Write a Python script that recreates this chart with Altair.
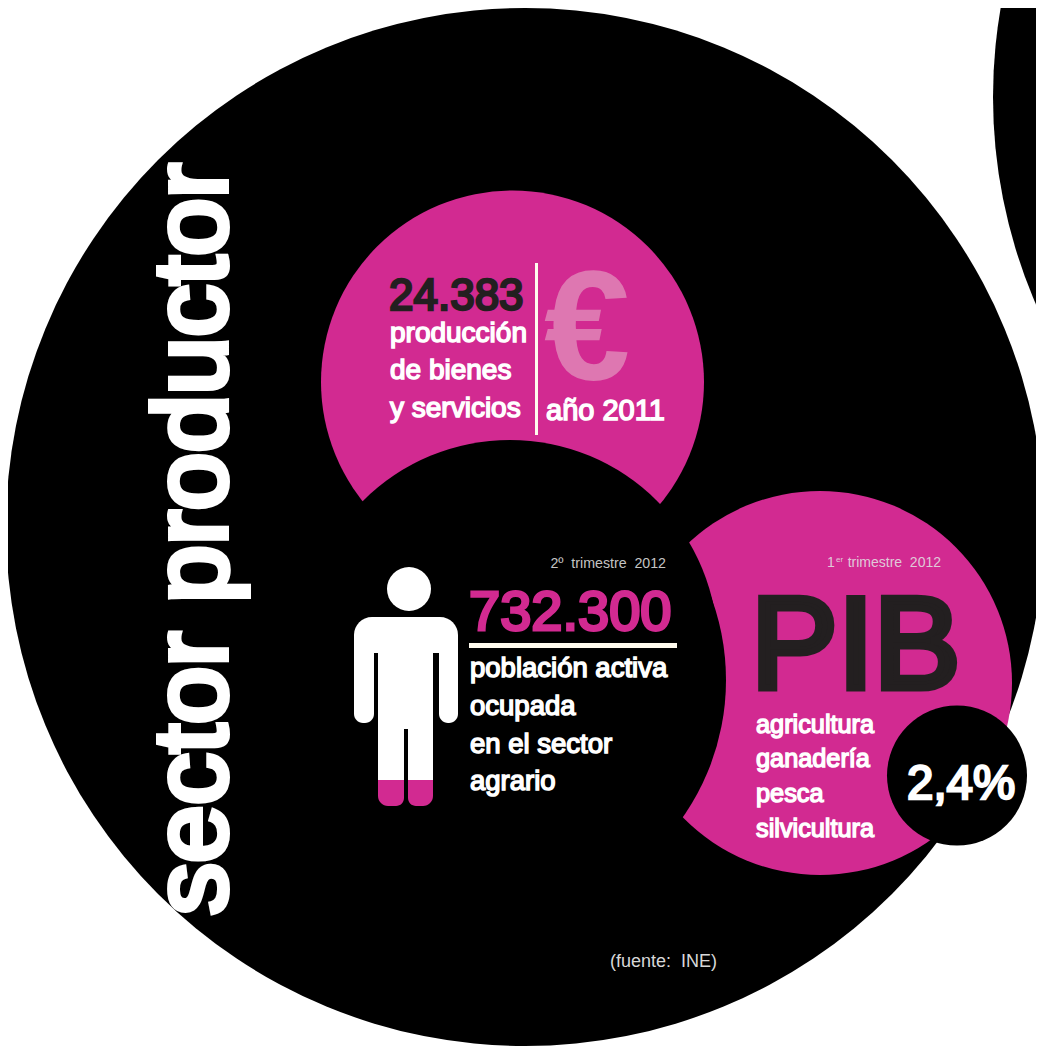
import altair as alt
import pandas as pd

W, H = 1036, 1050
MARGIN = 8
MAGENTA = "#D22A91"
DARK = "#231F20"
CREAM = "#FFFBEE"
FONT = "Liberation Sans"

sx = alt.Scale(domain=[MARGIN, W], nice=False, zero=False)
sy = alt.Scale(domain=[H, MARGIN], nice=False, zero=False)

circle_x = [525, 1515, 820, 486, 512.5, 510, 957, 409]
circle_y = [527, 97, 683, 680, 382, 648, 775.5, 589]
circle_d = [1038, 1044, 384, 480, 383, 416, 140, 44]
circle_c = ["#000000", "#000000", MAGENTA, "#000000", MAGENTA, "#000000", "#000000", "#FFFFFF"]

rect_x = [535, 469]
rect_x2 = [538, 677]
rect_y = [263, 643]
rect_y2 = [435, 648]

text_label = ["24.383", "producción", "de bienes", "y servicios", "año 2011", "€",
              "2º\u00a0 trimestre\u00a0 2012", "732.300", "población activa", "ocupada",
              "en el sector", "agrario", "1", "er", "trimestre\u00a0 2012", "PIB",
              "agricultura", "ganadería", "pesca", "silvicultura", "2,4%",
              "(fuente:\u00a0 INE)"]
text_x = [389, 390, 390, 390, 546, 544, 666, 469, 470, 470, 470, 470, 827, 836, 941, 751,
          756, 756, 756, 756, 907, 610]
text_y = [310, 342, 379, 417, 420, 379, 568, 630, 677, 715, 753, 790, 567, 562, 567, 688,
          733, 767, 802, 837, 799, 967]
text_size = [44, 28, 28, 28, 29, 155, 14.2, 56, 27.5, 27.5, 27.5, 27.5, 14, 8, 14, 130,
             25.3, 25.3, 25.3, 25.3, 47.5, 18]
text_weight = ["normal"] * 5 + ["bold"] + ["normal"] * 16
text_stroke = [2.5, 1.5, 1.5, 1.5, 1.5, 0, 0, 3, 1.5, 1.5, 1.5, 1.5, 0, 0, 0, 7,
               1.4, 1.4, 1.4, 1.4, 2.5, 0]
text_align = ["left"] * 6 + ["right"] + ["left"] * 7 + ["right"] + ["left"] * 7
text_color = [DARK, "#FFFFFF", "#FFFFFF", "#FFFFFF", "#FFFFFF", "#DE77B1", "#C4C4C4", MAGENTA,
              "#FFFFFF", "#FFFFFF", "#FFFFFF", "#FFFFFF", "#E0C8D8", "#E0C8D8", "#E0C8D8", DARK,
              "#FFFFFF", "#FFFFFF", "#FFFFFF", "#FFFFFF", "#FFFFFF", "#D8D8D8"]

title_label = ["sector productor"]
title_x = [226]
title_y = [915]


def X(f="x"):
    return alt.X(f"{f}:Q", scale=sx, axis=None)


def Y(f="y"):
    return alt.Y(f"{f}:Q", scale=sy, axis=None)


layers = []
for cx, cy, d, c in zip(circle_x, circle_y, circle_d, circle_c):
    df = pd.DataFrame({"x": [cx], "y": [cy], "s": [d * d]})
    layers.append(
        alt.Chart(df).mark_circle(color=c, opacity=1, clip=False).encode(
            x=X(), y=Y(), size=alt.Size("s:Q", scale=None, legend=None))
    )


def rect(x, x2, y, y2, color, **corners):
    df = pd.DataFrame({"x": [x], "x2": [x2], "y": [y], "y2": [y2]})
    return alt.Chart(df).mark_rect(color=color, opacity=1, **corners).encode(
        x=X(), x2="x2:Q", y=Y(), y2="y2:Q")


for a, b, c, d in zip(rect_x, rect_x2, rect_y, rect_y2):
    layers.append(rect(a, b, c, d, CREAM))

# person figure
layers += [
    rect(354, 458, 617, 653, "#FFFFFF", cornerRadiusTopLeft=24, cornerRadiusTopRight=24),
    rect(354, 374, 640, 723, "#FFFFFF", cornerRadiusBottomLeft=9, cornerRadiusBottomRight=9),
    rect(439, 458, 640, 723, "#FFFFFF", cornerRadiusBottomLeft=9, cornerRadiusBottomRight=9),
    rect(378, 433, 640, 729, "#FFFFFF"),
    rect(378, 404, 727, 781, "#FFFFFF"),
    rect(408, 433, 727, 781, "#FFFFFF"),
    rect(378, 404, 780, 806, MAGENTA, cornerRadiusBottomLeft=10, cornerRadiusBottomRight=8),
    rect(408, 433, 780, 806, MAGENTA, cornerRadiusBottomLeft=8, cornerRadiusBottomRight=10),
]

for t, x, y, s, w, sw, al, c in zip(text_label, text_x, text_y, text_size, text_weight,
                                    text_stroke, text_align, text_color):
    df = pd.DataFrame({"x": [x], "y": [y], "t": [t]})
    extra = {"stroke": c, "strokeWidth": sw} if sw else {}
    layers.append(
        alt.Chart(df).mark_text(font=FONT, fontSize=s, fontWeight=w, align=al,
                                baseline="alphabetic", color=c, **extra).encode(
            x=X(), y=Y(), text="t:N")
    )

layers.append(
    alt.Chart(pd.DataFrame({"x": title_x, "y": title_y, "t": title_label})).mark_text(
        font=FONT, fontSize=104, fontWeight="normal", align="left",
        baseline="alphabetic", angle=270, color="#FFFFFF",
        stroke="#FFFFFF", strokeWidth=6).encode(
        x=X(), y=Y(), text="t:N")
)

chart = alt.layer(*layers).properties(
    width=W - MARGIN, height=H - MARGIN, padding=0,
    autosize=alt.AutoSizeParams(type="none"),
    background="#FFFFFF",
).configure_view(stroke=None)

chart.save("out.html", embed_options={"renderer": "svg", "actions": False})
